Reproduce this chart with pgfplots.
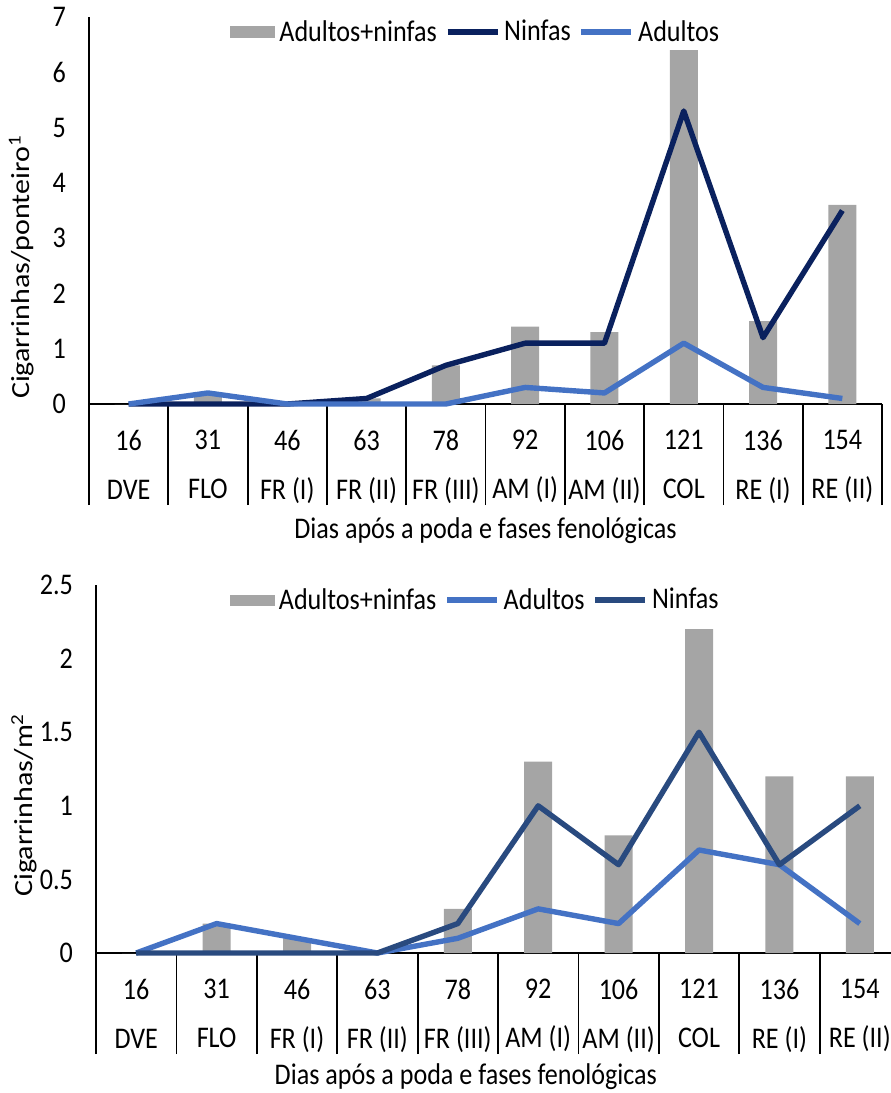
\documentclass[border=0pt]{standalone}
\usepackage{fontspec}
\setmainfont[FakeStretch=0.87]{Carlito}
\newfontfamily\plainfont{Carlito}
\usepackage{graphicx}
\usepackage{pgfplots}
\pgfplotsset{compat=1.18}

\definecolor{barGray}{HTML}{A5A5A5}
\definecolor{navyA}{HTML}{0A215E}
\definecolor{navyB}{HTML}{294A7F}
\definecolor{lightBlue}{HTML}{4472C4}

\newcommand\f{\fontsize{15pt}{18pt}\selectfont}
\newcommand\ylab[1]{{\plainfont\fontsize{15pt}{18pt}\selectfont\scalebox{1}[0.87]{#1}}}

\pgfplotsset{
  catAxis/.style={
    scale only axis,
    anchor=south west,
    xmin=0.5, xmax=10.5, ymin=0,
    clip=false,
    axis x line*=bottom, axis y line*=left,
    axis line style={black, line width=0.75pt},
    xtick={1,...,10},
    xticklabels={{16\\[6.6pt]DVE},{31\\[6.6pt]FLO},{46\\[6.6pt]FR (I)},{63\\[6.6pt]FR (II)},
      {78\\[6.6pt]FR (III)},{92\\[6.6pt]AM (I)},{106\\[6.6pt]AM (II)},{121\\[6.6pt]COL},
      {136\\[6.6pt]RE (I)},{154\\[6.6pt]RE (II)}},
    major tick length=0pt,
    tick align=outside,
    extra x ticks={0.5,1.5,...,10.5},
    extra x tick labels={},
    extra x tick style={major tick length=50.5pt,
      xtick style={black, line width=0.9pt}},
    xticklabel style={align=center, anchor=north, inner sep=0pt, yshift=-12.75pt},
    yticklabel style={xshift=-8pt},
    tick label style={font=\f},
    label style={font=\f},
    /pgf/number format/assume math mode=true,
    legend columns=3,
    legend style={draw=none, fill=none, anchor=center, font=\f, inner sep=0pt,
      /tikz/every even column/.append style={column sep=2pt}},
  },
  barLeg/.style={legend image code/.code={\fill[barGray] (0pt,-2.8pt) rectangle (22.5pt,2.8pt);}},
  lineLeg/.style={legend image code/.code={\draw[##1, line width=2.7pt] (0pt,0pt) -- (25pt,0pt);}},
  bars/.style={ybar, bar width=14pt, bar shift=0pt, fill=barGray, draw=none, barLeg},
  serie/.style={line width=2.7pt, line join=round, mark=none, lineLeg},
}

\begin{document}
\begin{tikzpicture}
\useasboundingbox (0,0) rectangle (445pt,-546.5pt);

% painel superior: cigarrinhas por ponteiro
\begin{axis}[catAxis,
  at={(44.5pt,-202pt)},
  width=396.5pt, height=193.5pt,
  ymax=7, ytick={0,1,...,7},
  ylabel={\ylab{Cigarrinhas/ponteiro\textsuperscript{1}}},
  ylabel style={at={(axis description cs:-0.085,0.354)}, anchor=center},
  xlabel={Dias após a poda e fases fenológicas},
  xlabel style={at={(axis description cs:0.5,-0.328)}, anchor=center},
  legend style={at={(0.489,0.961)}},
]
\addplot[bars] coordinates {
(1,0) (2,0.2) (3,0) (4,0.1) (5,0.7) (6,1.4) (7,1.3) (8,6.4) (9,1.5) (10,3.6)
};
\addlegendentry{Adultos+ninfas}
\addplot[serie, navyA] coordinates {
(1,0) (2,0) (3,0) (4,0.1) (5,0.7) (6,1.1) (7,1.1) (8,5.3) (9,1.2) (10,3.5)
};
\addlegendentry{Ninfas}
\addplot[serie, lightBlue] coordinates {
(1,0) (2,0.2) (3,0) (4,0) (5,0) (6,0.3) (7,0.2) (8,1.1) (9,0.3) (10,0.1)
};
\addlegendentry{Adultos}
\end{axis}

% painel inferior: cigarrinhas por m2
\begin{axis}[catAxis,
  at={(48pt,-476.5pt)},
  width=402pt, height=184pt,
  ymax=2.5, ytick={0,0.5,...,2.5},
  ylabel={\ylab{Cigarrinhas/m\textsuperscript{2}}},
  ylabel style={at={(axis description cs:-0.0896,0.402)}, anchor=center},
  xlabel={Dias após a poda e fases fenológicas},
  xlabel style={at={(axis description cs:0.46,-0.337)}, anchor=center},
  legend style={at={(0.473,0.959)}},
]
\addplot[bars] coordinates {
(1,0) (2,0.2) (3,0.1) (4,0) (5,0.3) (6,1.3) (7,0.8) (8,2.2) (9,1.2) (10,1.2)
};
\addlegendentry{Adultos+ninfas}
\addplot[serie, lightBlue] coordinates {
(1,0) (2,0.2) (3,0.1) (4,0) (5,0.1) (6,0.3) (7,0.2) (8,0.7) (9,0.6) (10,0.2)
};
\addlegendentry{Adultos}
\addplot[serie, navyB] coordinates {
(1,0) (2,0) (3,0) (4,0) (5,0.2) (6,1.0) (7,0.6) (8,1.5) (9,0.6) (10,1.0)
};
\addlegendentry{Ninfas}
\end{axis}
\end{tikzpicture}
\end{document}
